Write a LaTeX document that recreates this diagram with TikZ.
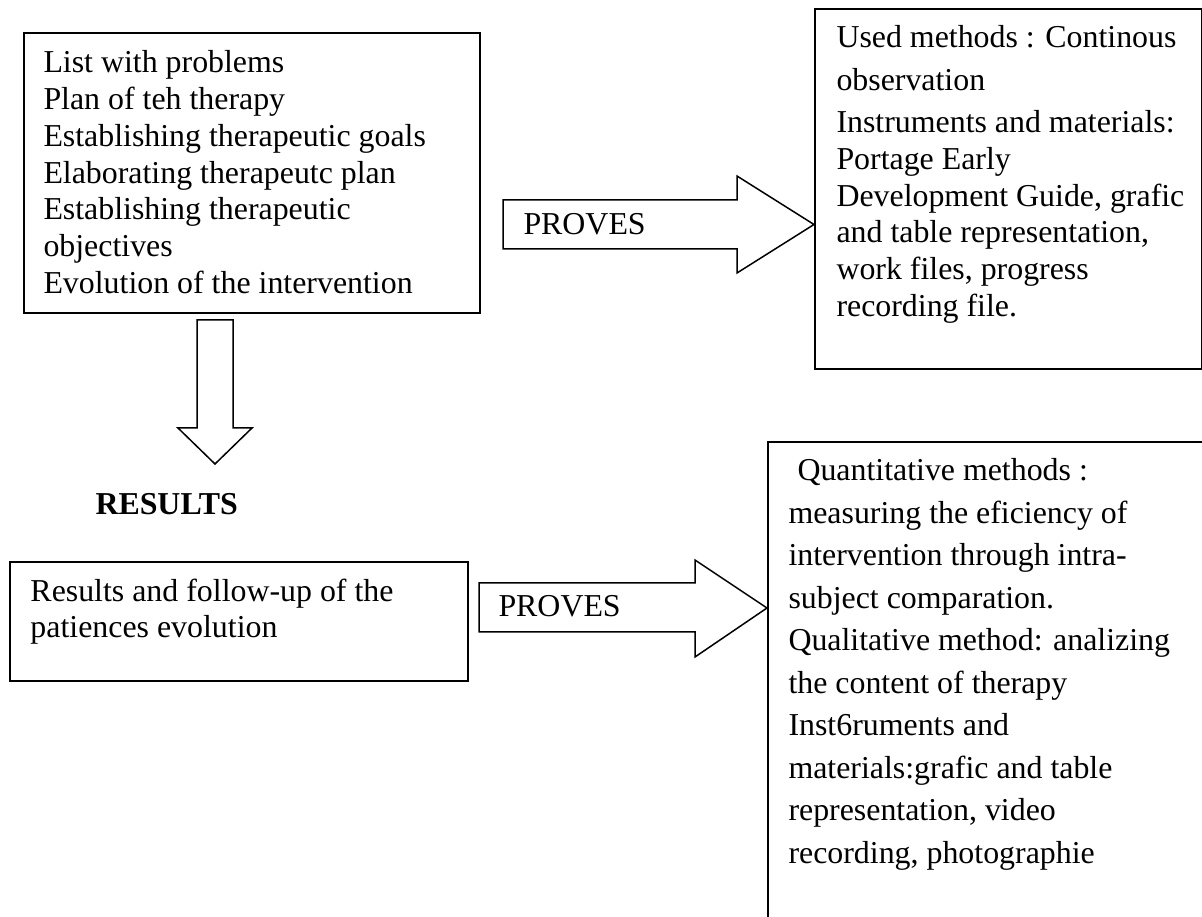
\documentclass[tikz,border=0pt]{standalone}
\usepackage{fontspec}
\setmainfont{Liberation Serif}
\usetikzlibrary{positioning}

\begin{document}
\begin{tikzpicture}[x=0.4pt,y=-0.4pt,
    box/.style={draw, line width=0.8pt, inner sep=0pt, anchor=north west},
    txt/.style={inner sep=0pt, anchor=north west, align=left, font=\fontsize{12.75}{14.7}\selectfont},
    blockarrow/.style={draw, line width=0.6pt, fill=white}]
    \useasboundingbox (0,0) rectangle (1202,917);
    \clip (0,0) rectangle (1202,917);
    \node[box, minimum width=182.4pt, minimum height=112pt] (plan) at (23,32) {};
    \node[box, minimum width=154.6pt, minimum height=144pt] (methods) at (814,8) {};
    \node[box, minimum width=183.2pt, minimum height=47.6pt] (follow) at (9,561) {};
    \node[box, minimum width=200pt, minimum height=240pt] (quant) at (767,441) {};
    \draw[blockarrow] (503,200) -- (737,200) -- (737,176) -- (methods.west |- 0,224.5)
      -- (737,273) -- (737,249) -- (503,249) -- cycle;
    \draw[blockarrow] (197,320) -- (233,320) -- (233,428) -- (252,428) -- (215,464)
      -- (178,428) -- (197,428) -- cycle;
    \draw[blockarrow] (479,583) -- (695,583) -- (695,560) -- (quant.west |- 0,608)
      -- (695,657) -- (695,632) -- (479,632) -- cycle;
    \node[txt] (plantext) at (43,50.2) {List with problems\\ Plan of teh therapy\\
      Establishing therapeutic goals\\ Elaborating therapeutc plan\\
      Establishing therapeutic\\ objectives\\ Evolution of the intervention};
    \node[txt] (methodstext) at (836,25.2) {Used methods : Continous\\[2.4pt] observation\\[2.1pt]
      Instruments and materials:\\ Portage Early\\ Development Guide, grafic\\
      and table representation,\\ work files, progress\\ recording file.};
    \node[txt] (followtext) at (30,578.2) {Results and follow-up of the\\ patiences evolution};
    \node[txt, font=\fontsize{12.75}{17}\selectfont] (quanttext) at (788,458.2) {\hspace*{3.6pt}Quantitative methods :\\
      measuring the eficiency of\\ intervention through intra-\\ subject comparation.\\
      Qualitative method: analizing\\ the content of therapy\\ Inst6ruments and\\
      materials:grafic and table\\ representation, video\\ recording, photographie};
    \node[txt, anchor=base west] (proves1) at (523,235) {PROVES};
    \node[txt, anchor=base west] (proves2) at (498,617) {PROVES};
    \node[txt, anchor=base west, font=\fontsize{12.75}{14.7}\selectfont\bfseries] (results) at (95,515) {RESULTS};
\end{tikzpicture}
\end{document}
